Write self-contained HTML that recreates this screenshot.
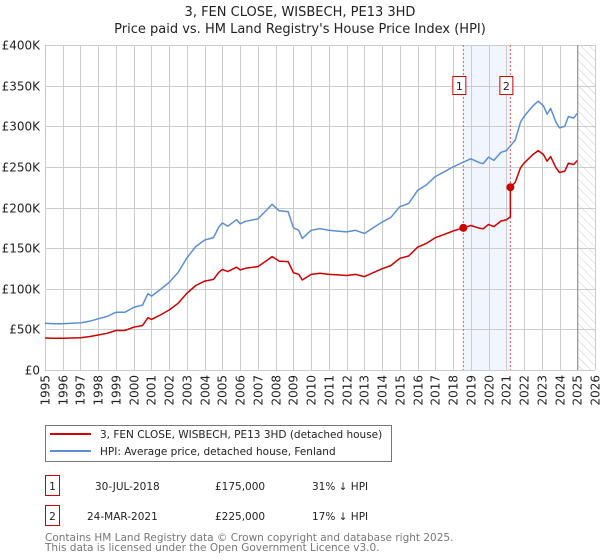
<!DOCTYPE html>
<html><head><meta charset="utf-8">
<style>
body{margin:0;background:#fff;font-family:"DejaVu Sans","Liberation Sans",sans-serif;}
svg{display:block}
text{font-family:"DejaVu Sans","Liberation Sans",sans-serif;}
</style></head>
<body>
<svg id="chart" width="600" height="560">
<defs>
<pattern id="hatch" width="6" height="6" patternUnits="userSpaceOnUse" patternTransform="rotate(-45)">
<line x1="0" y1="0" x2="0" y2="6" stroke="#ccc" stroke-width="1"/>
</pattern>
</defs>
<text x="300" y="16" text-anchor="middle" font-size="13" fill="#222">3, FEN CLOSE, WISBECH, PE13 3HD</text>
<text x="300" y="33" text-anchor="middle" font-size="13" fill="#222">Price paid vs. HM Land Registry's House Price Index (HPI)</text>
<g id="grid"></g>
<g id="marks"></g>
<g>
<rect x="45.5" y="425.5" width="346" height="36" fill="#fff" stroke="#777"/>
<line x1="50" y1="434" x2="91" y2="434" stroke="#cc0000" stroke-width="2"/>
<text x="100" y="438" font-size="10.5" fill="#222">3, FEN CLOSE, WISBECH, PE13 3HD (detached house)</text>
<line x1="50" y1="451" x2="91" y2="451" stroke="#5b8fd4" stroke-width="2"/>
<text x="100" y="455" font-size="10.5" fill="#222">HPI: Average price, detached house, Fenland</text>
</g>
<g>
<rect x="45.5" y="475.5" width="14" height="20" fill="#fff" stroke="#cc0000"/>
<text x="52.5" y="490" text-anchor="middle" font-size="10.5" fill="#222">1</text>
<text x="95" y="490" font-size="10.5" fill="#222">30-JUL-2018</text>
<text x="215" y="490" font-size="10.5" fill="#222">£175,000</text>
<text x="312" y="490" font-size="10.5" fill="#222">31% ↓ HPI</text>
<rect x="45.5" y="505.5" width="14" height="20" fill="#fff" stroke="#cc0000"/>
<text x="52.5" y="520" text-anchor="middle" font-size="10.5" fill="#222">2</text>
<text x="87" y="520" font-size="10.5" fill="#222">24-MAR-2021</text>
<text x="215" y="520" font-size="10.5" fill="#222">£225,000</text>
<text x="312" y="520" font-size="10.5" fill="#222">17% ↓ HPI</text>
</g>
<text x="45" y="541" font-size="10.5" fill="#777">Contains HM Land Registry data © Crown copyright and database right 2025.</text>
<text x="45" y="551" font-size="10.5" fill="#777">This data is licensed under the Open Government Licence v3.0.</text>
</svg>
<script>
const hpiYears=[1995,1995.5,1996,1996.5,1997,1997.5,1998,1998.5,1999,1999.5,2000,2000.5,2000.8,2001,2001.5,2002,2002.5,2003,2003.5,2004,2004.5,2004.8,2005,2005.3,2005.8,2006,2006.3,2007,2007.5,2007.8,2008.2,2008.7,2009,2009.3,2009.5,2010,2010.5,2011,2011.5,2012,2012.5,2013,2013.5,2014,2014.5,2015,2015.5,2016,2016.5,2017,2017.5,2018,2018.6,2019,2019.5,2019.7,2020,2020.3,2020.7,2021,2021.2,2021.5,2021.8,2022,2022.5,2022.8,2023.1,2023.3,2023.5,2023.8,2024,2024.3,2024.5,2024.8,2025];
const hpiValues=[57.5,57,57,57.5,58,60,63,66,71,71,77,80,94,91,99,108,120,138,152,160,163,176,181,177,185,180,183,186,197,204,196,195,175,172,162,172,174,172,171,170,172,168,175,182,188,201,205,221,228,238,244,250,256,260,255,254,262,258,268,270,275,283,305,312,325,331,325,315,322,305,298,300,312,310,316];
const saleYears=[2018.58,2021.23];
const salePrices=[175,225];
const yTicks=[0,50,100,150,200,250,300,350,400];
const yTickLabels=["£0","£50K","£100K","£150K","£200K","£250K","£300K","£350K","£400K"];
const xTicks=[1995,1996,1997,1998,1999,2000,2001,2002,2003,2004,2005,2006,2007,2008,2009,2010,2011,2012,2013,2014,2015,2016,2017,2018,2019,2020,2021,2022,2023,2024,2025,2026];

const X0=45,X1=595,Y0=370,Y1=45;
const xs=y=>X0+(y-1995)/(2026-1995)*(X1-X0);
const ys=v=>Y0-v/400*(Y0-Y1);
const NS="http://www.w3.org/2000/svg";
function mk(tag,attrs,parent){const e=document.createElementNS(NS,tag);for(const k in attrs)e.setAttribute(k,attrs[k]);parent.appendChild(e);return e;}
const grid=document.getElementById('grid'),marks=document.getElementById('marks');

let band=mk('rect',{x:xs(saleYears[0]),y:Y1,width:xs(saleYears[1])-xs(saleYears[0]),height:Y0-Y1,fill:'#eef3fc',opacity:0.8},grid);


let hz=mk('rect',{x:xs(2025),y:Y1,width:X1-xs(2025),height:Y0-Y1,fill:'url(#hatch)'},grid);



yTicks.forEach((t,i)=>{
  const y=Math.round(ys(t))+0.5;
  const l=mk('line',{x1:X0,x2:X1,y1:y,y2:y,stroke:'#ccc','stroke-width':1},grid);
  
  
  const tx=mk('text',{x:40,y:y+4,'text-anchor':'end','font-size':12,fill:'#222'},grid);
  tx.textContent=yTickLabels[i];
  
  
});
xTicks.forEach(t=>{
  const x=Math.round(xs(t))+0.5;
  const l=mk('line',{x1:x,x2:x,y1:Y1,y2:Y0,stroke:'#ccc','stroke-width':1},grid);
  
  
  const tx=mk('text',{x:0,y:0,'text-anchor':'end','font-size':12,fill:'#222',transform:`translate(${x+4},375) rotate(-90)`},grid);
  tx.textContent=t;
  
  
});
let nowLine=mk('line',{x1:xs(2025)+0.5,x2:xs(2025)+0.5,y1:Y1,y2:Y0,stroke:'#888','stroke-width':1},grid);



function hpiAt(t){
  for(let i=0;i<hpiYears.length-1;i++){if(t>=hpiYears[i]&&t<=hpiYears[i+1]){const f=(t-hpiYears[i])/(hpiYears[i+1]-hpiYears[i]);return hpiValues[i]+f*(hpiValues[i+1]-hpiValues[i]);}}
  return hpiValues[hpiValues.length-1];
}
const r1=salePrices[0]/hpiAt(saleYears[0]),r2=salePrices[1]/hpiAt(saleYears[1]);
let redPts=[];
hpiYears.forEach((t,i)=>{
  if(t<saleYears[1]) redPts.push([xs(t),ys(hpiValues[i]*r1)]);
  if(i<hpiYears.length-1&&t<saleYears[1]&&hpiYears[i+1]>=saleYears[1]){
    redPts.push([xs(saleYears[1]),ys(hpiAt(saleYears[1])*r1)]);
    redPts.push([xs(saleYears[1]),ys(salePrices[1])]);
  }
  if(t>=saleYears[1]) redPts.push([xs(t),ys(hpiValues[i]*r2)]);
});
const bluePts=hpiYears.map((t,i)=>[xs(t),ys(hpiValues[i])]);

saleYears.forEach((t,i)=>{
  const x=xs(t);
  const l=mk('line',{x1:x,x2:x,y1:Y1,y2:Y0,stroke:'#e06060','stroke-width':1,'stroke-dasharray':'2,2'},marks);
  
  
  const b=mk('rect',{x:x-10.5,y:76.5,width:13,height:18,fill:'#fff',stroke:'#cc0000'},marks);
  
  
  const tx=mk('text',{x:x-4,y:90,'text-anchor':'middle','font-size':11,fill:'#222'},marks);
  tx.textContent=String(i+1);
  
  
});

const pl=p=>p.map(q=>q[0].toFixed(1)+','+q[1].toFixed(1)).join(' ');
let bl=mk('polyline',{points:pl(bluePts),fill:'none',stroke:'#5b8fd4','stroke-width':1.5,'stroke-linejoin':'round'},marks);


let rl=mk('polyline',{points:pl(redPts),fill:'none',stroke:'#cc0000','stroke-width':1.5,'stroke-linejoin':'round'},marks);


saleYears.forEach((t,i)=>{
  const c=mk('circle',{cx:xs(t),cy:ys(salePrices[i]),r:4,fill:'#cc0000'},marks);
  
  
});
</script>
</body></html>
